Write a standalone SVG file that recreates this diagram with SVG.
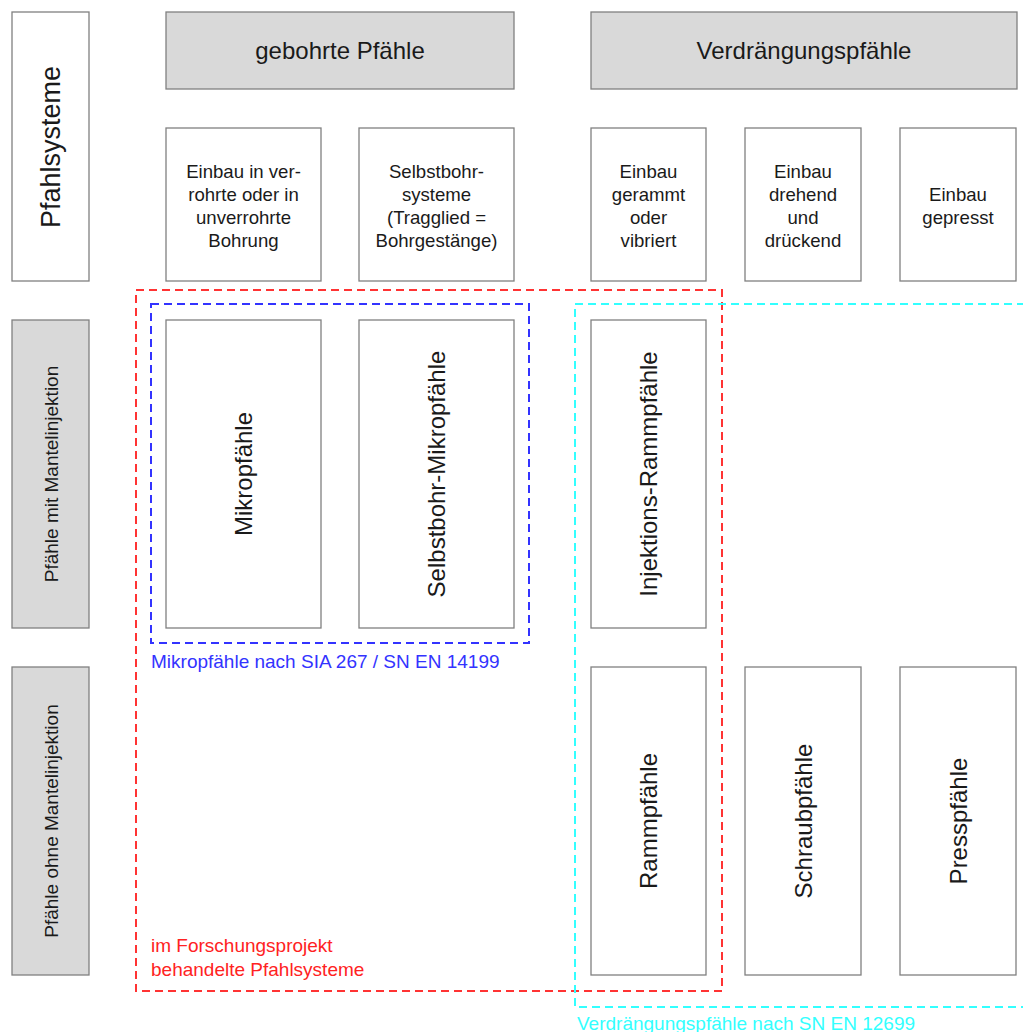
<svg xmlns="http://www.w3.org/2000/svg" width="1023" height="1032" viewBox="0 0 1023 1032">
<style>
.b{fill:#fff;stroke:#808080;stroke-width:1.3}
.g{fill:#d9d9d9;stroke:#808080;stroke-width:1.3}
text{font-family:"Liberation Sans",Arial,sans-serif;fill:#1a1a1a;text-anchor:middle}
.t{font-size:24px}
.s{font-size:18.6px}
.r{font-size:24px}
.l{font-size:19px}
.a{font-size:19px;text-anchor:start}
.d{fill:none;stroke-width:2;stroke-dasharray:8,5}
</style>
<rect width="1023" height="1032" fill="#fff"/>
<g id="pfahlsysteme"><rect class="b" x="12" y="12" width="77" height="269"/><text transform="translate(60,147) rotate(-90)" style="font-size:27px">Pfahlsysteme</text></g>
<g id="gebohrte"><rect class="g" x="166" y="12" width="348" height="77"/><text class="t" x="340" y="59">gebohrte Pfähle</text></g>
<g id="verdraengung"><rect class="g" x="591" y="12" width="426" height="77"/><text class="t" x="804" y="59">Verdrängungspfähle</text></g>
<g id="einbau1"><rect class="b" x="166" y="128" width="155" height="153"/><text class="s" x="243.5"><tspan x="243.5" y="178">Einbau in ver-</tspan><tspan x="243.5" y="201">rohrte oder in</tspan><tspan x="243.5" y="224">unverrohrte</tspan><tspan x="243.5" y="247">Bohrung</tspan></text></g>
<g id="einbau2"><rect class="b" x="359" y="128" width="155" height="153"/><text class="s" x="436.5"><tspan x="436.5" y="178">Selbstbohr-</tspan><tspan x="436.5" y="201">systeme</tspan><tspan x="436.5" y="224">(Tragglied =</tspan><tspan x="436.5" y="247">Bohrgestänge)</tspan></text></g>
<g id="einbau3"><rect class="b" x="591" y="128" width="115" height="153"/><text class="s" x="648.5"><tspan x="648.5" y="178">Einbau</tspan><tspan x="648.5" y="201">gerammt</tspan><tspan x="648.5" y="224">oder</tspan><tspan x="648.5" y="247">vibriert</tspan></text></g>
<g id="einbau4"><rect class="b" x="745" y="128" width="116" height="153"/><text class="s" x="803"><tspan x="803" y="178">Einbau</tspan><tspan x="803" y="201">drehend</tspan><tspan x="803" y="224">und</tspan><tspan x="803" y="247">drückend</tspan></text></g>
<g id="einbau5"><rect class="b" x="900" y="128" width="116" height="153"/><text class="s" x="958"><tspan x="958" y="201">Einbau</tspan><tspan x="958" y="224">gepresst</tspan></text></g>
<g id="mit"><rect class="g" x="12" y="320" width="77" height="308"/><text class="l" transform="translate(58,474) rotate(-90)">Pfähle mit Mantelinjektion</text></g>
<g id="ohne"><rect class="g" x="12" y="667" width="77" height="308"/><text class="l" transform="translate(58,821) rotate(-90)">Pfähle ohne Mantelinjektion</text></g>
<g id="mikro"><rect class="b" x="166" y="320" width="155" height="308"/><text class="r" transform="translate(252,474) rotate(-90)">Mikropfähle</text></g>
<g id="selbstbohr"><rect class="b" x="359" y="320" width="155" height="308"/><text class="r" transform="translate(445,474) rotate(-90)">Selbstbohr-Mikropfähle</text></g>
<g id="injektion"><rect class="b" x="591" y="320" width="115" height="308"/><text class="r" transform="translate(657,474) rotate(-90)">Injektions-Rammpfähle</text></g>
<g id="ramm"><rect class="b" x="591" y="667" width="115" height="308"/><text class="r" transform="translate(657,821) rotate(-90)">Rammpfähle</text></g>
<g id="schraub"><rect class="b" x="745" y="667" width="116" height="308"/><text class="r" transform="translate(812,821) rotate(-90)">Schraubpfähle</text></g>
<g id="press"><rect class="b" x="900" y="667" width="116" height="308"/><text class="r" transform="translate(967,821) rotate(-90)">Presspfähle</text></g>
<g id="connectors">
<rect class="d" x="136" y="290" width="586" height="701" stroke="#ff3333"/>
<rect class="d" x="151" y="304" width="378" height="339" stroke="#3333ff"/>
<path class="d" d="M1025,304 H575 V1007 H1025" stroke="#33ffff"/>
<text class="a" x="151" y="668" style="fill:#3333ff">Mikropfähle nach SIA 267 / SN EN 14199</text>
<text class="a" x="151" y="952" style="fill:#ff2222">im Forschungsprojekt</text>
<text class="a" x="151" y="976" style="fill:#ff2222">behandelte Pfahlsysteme</text>
<text class="a" x="577" y="1030" style="fill:#33ffff">Verdrängungspfähle nach SN EN 12699</text>
</g>
</svg>
